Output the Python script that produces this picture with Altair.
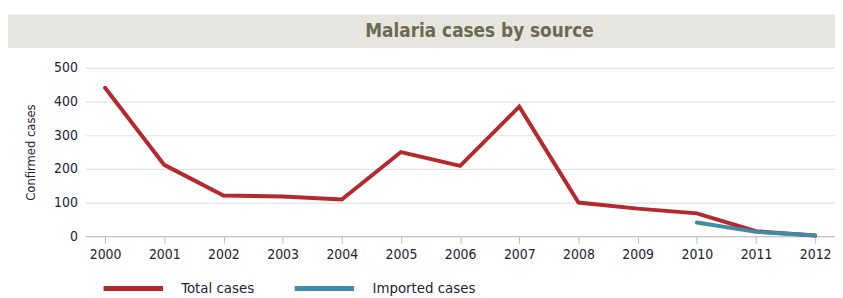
import altair as alt
import pandas as pd

years = list(range(2000, 2013))
total_cases = [441, 212, 121, 118, 109, 250, 209, 385, 100, 82, 68, 15, 2]
imported_years = [2010, 2011, 2012]
imported_cases = [41, 13, 2]

rows = [{"year": str(y), "cases": v, "series": "Total cases"} for y, v in zip(years, total_cases)]
rows += [{"year": str(y), "cases": v, "series": "Imported cases"} for y, v in zip(imported_years, imported_cases)]
df = pd.DataFrame(rows)

FONT = "DejaVu Sans Condensed, Liberation Sans Narrow, Open Sans, sans-serif"

band = alt.Chart(pd.DataFrame({"t": ["Malaria cases by source"]})).mark_rect(
    color="#e6e5e0"
).encode(
    x=alt.value(-81), x2=alt.value(760), y=alt.value(-54), y2=alt.value(-20)
)
title = alt.Chart(pd.DataFrame({"t": ["Malaria cases by source"]})).mark_text(
    font=FONT, fontSize=19, fontWeight="bold", color="#6b6a4e", align="center", baseline="middle"
).encode(x=alt.value(398), y=alt.value(-37), text="t:N")

lines = alt.Chart(df).mark_line(strokeWidth=4, strokeCap="round").encode(
    x=alt.X("year:O", scale=alt.Scale(type="point", padding=0.335),
            axis=alt.Axis(title=None, labelAngle=0, labelFontSize=14, labelFont=FONT,
                          labelColor="#222233", tickColor="#bbbbbb", tickSize=7,
                          domainColor="#bbbbbb", labelPadding=4, grid=False)),
    y=alt.Y("cases:Q", scale=alt.Scale(domain=[0, 500], nice=False),
            axis=alt.Axis(title="Confirmed cases", values=[0, 100, 200, 300, 400, 500],
                          labelFontSize=14, labelFont=FONT, labelColor="#222233",
                          titleFont=FONT, titleFontSize=13, titleFontWeight="normal",
                          titleColor="#222233", titlePadding=16,
                          domain=False, ticks=False, labelPadding=8,
                          gridColor="#e2e2e2", gridWidth=1.2)),
    color=alt.Color("series:N",
                    scale=alt.Scale(domain=["Total cases", "Imported cases"],
                                    range=["#b5282c", "#3f8ba8"]),
                    legend=alt.Legend(title=None, orient="none", legendX=16, legendY=190,
                                      direction="horizontal", symbolType="stroke",
                                      symbolSize=3600, symbolStrokeWidth=5,
                                      labelFont=FONT, labelFontSize=15, labelColor="#222233",
                                      columnPadding=30, labelOffset=16)),
    detail="series:N",
)

chart = alt.layer(band, title, lines).properties(
    width=757, height=170,
    autosize=alt.AutoSizeParams(type="none"),
    padding={"left": 78, "top": 59, "right": 0, "bottom": 75},
).configure_view(stroke=None)

chart.save("out.html", embed_options={"renderer": "svg", "actions": False})
